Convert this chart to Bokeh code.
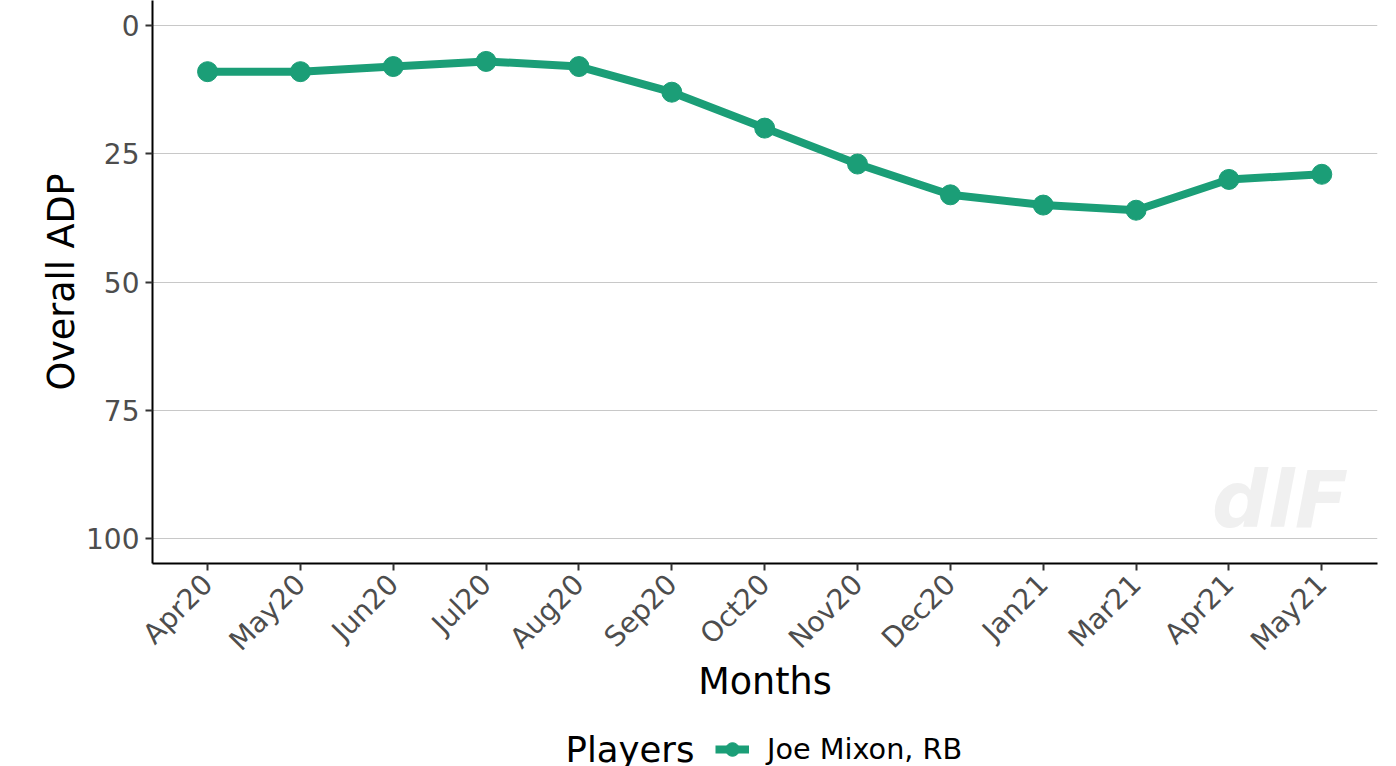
import math
from bokeh.plotting import figure
from bokeh.layouts import column
from bokeh.models import Range1d, FixedTicker, Legend, LegendItem, Label
from bokeh.embed import file_html
from bokeh.resources import INLINE

months = ["Apr20", "May20", "Jun20", "Jul20", "Aug20", "Sep20", "Oct20",
          "Nov20", "Dec20", "Jan21", "Mar21", "Apr21", "May21"]
adp = [9, 9, 8, 7, 8, 13, 20, 27, 33, 35, 36, 30, 29]
player = "Joe Mixon, RB"
y_ticks = [0, 25, 50, 75, 100]

COLOR = "#1B9E77"
FONT = "DejaVu Sans"

idx = list(range(len(months)))

p = figure(frame_width=1225, frame_height=563, output_backend="svg", toolbar_location=None,
           x_range=Range1d(-0.593, len(months) - 1 + 0.6),
           y_range=Range1d(104.85, -4.87),
           min_border_left=152, min_border_right=19, min_border_top=0,
           min_border_bottom=149)
p.outline_line_color = None
p.background_fill_color = "white"
p.border_fill_color = "white"

# watermark
p.add_layout(Label(x=11.55, y=92.5, text="dlF", text_font=FONT, text_font_style="bold italic",
                   text_font_size="78px", text_color="#F0F0F0", text_align="center",
                   text_baseline="middle"))

ln = p.line(idx, adp, line_color=COLOR, line_width=8)
sc = p.scatter(idx, adp, size=20, fill_color=COLOR, line_color=COLOR)

p.xgrid.visible = False
p.ygrid.grid_line_color = "#C8C8C8"
p.ygrid.grid_line_width = 1
p.ygrid.ticker = FixedTicker(ticks=y_ticks)

p.yaxis.ticker = FixedTicker(ticks=y_ticks)
p.xaxis.ticker = FixedTicker(ticks=idx)
p.xaxis.major_label_overrides = {i: m for i, m in enumerate(months)}
p.xaxis.major_label_orientation = math.pi / 4
p.xaxis.minor_tick_line_color = None
p.yaxis.minor_tick_line_color = None

for ax in (p.xaxis[0], p.yaxis[0]):
    ax.axis_line_color = "black"
    ax.axis_line_width = 2
    ax.major_tick_line_color = "#333333"
    ax.major_tick_line_width = 2
    ax.major_tick_out = 7
    ax.major_tick_in = 0
    ax.major_label_text_font = FONT
    ax.major_label_text_font_size = "28px"
    ax.major_label_text_color = "#4D4D4D"
    ax.axis_label_text_font = FONT
    ax.axis_label_text_font_size = "36.5px"
    ax.axis_label_text_font_style = "normal"
    ax.axis_label_text_color = "black"

p.xaxis.axis_label = "Months"
p.yaxis.axis_label = "Overall ADP"
p.xaxis.major_label_standoff = 9
p.yaxis.major_label_standoff = 6
p.xaxis.axis_label_standoff = -12
p.yaxis.axis_label_standoff = 0

# legend strip (coordinates of this strip are page pixels)
lg = figure(frame_width=1225, frame_height=60, output_backend="svg", toolbar_location=None,
            x_range=Range1d(152, 1377), y_range=Range1d(772, 712),
            min_border_left=152, min_border_right=19, min_border_top=0, min_border_bottom=0)
lg.outline_line_color = None
lg.axis.visible = False
lg.grid.visible = False
lr1 = lg.line([0, 10], [0, 0], line_color=COLOR, line_width=8)
lr2 = lg.scatter([5], [0], size=20, fill_color=COLOR, line_color=COLOR)
legend = Legend(items=[LegendItem(label=player, renderers=[lr1, lr2])],
                location=(563, 3), orientation="horizontal",
                label_text_font=FONT, label_text_font_size="28.7px",
                label_text_color="black", glyph_width=34, glyph_height=40,
                label_height=40, label_standoff=18, border_line_color=None,
                background_fill_alpha=0, margin=0, padding=0)
lg.add_layout(legend)
lg.add_layout(Label(x=565, y=749, text="Players", text_font=FONT, text_font_size="35.5px",
                    text_color="black", text_baseline="middle"))

layout = column(p, lg, spacing=0)
open("out.html", "w").write(file_html(layout, INLINE))
